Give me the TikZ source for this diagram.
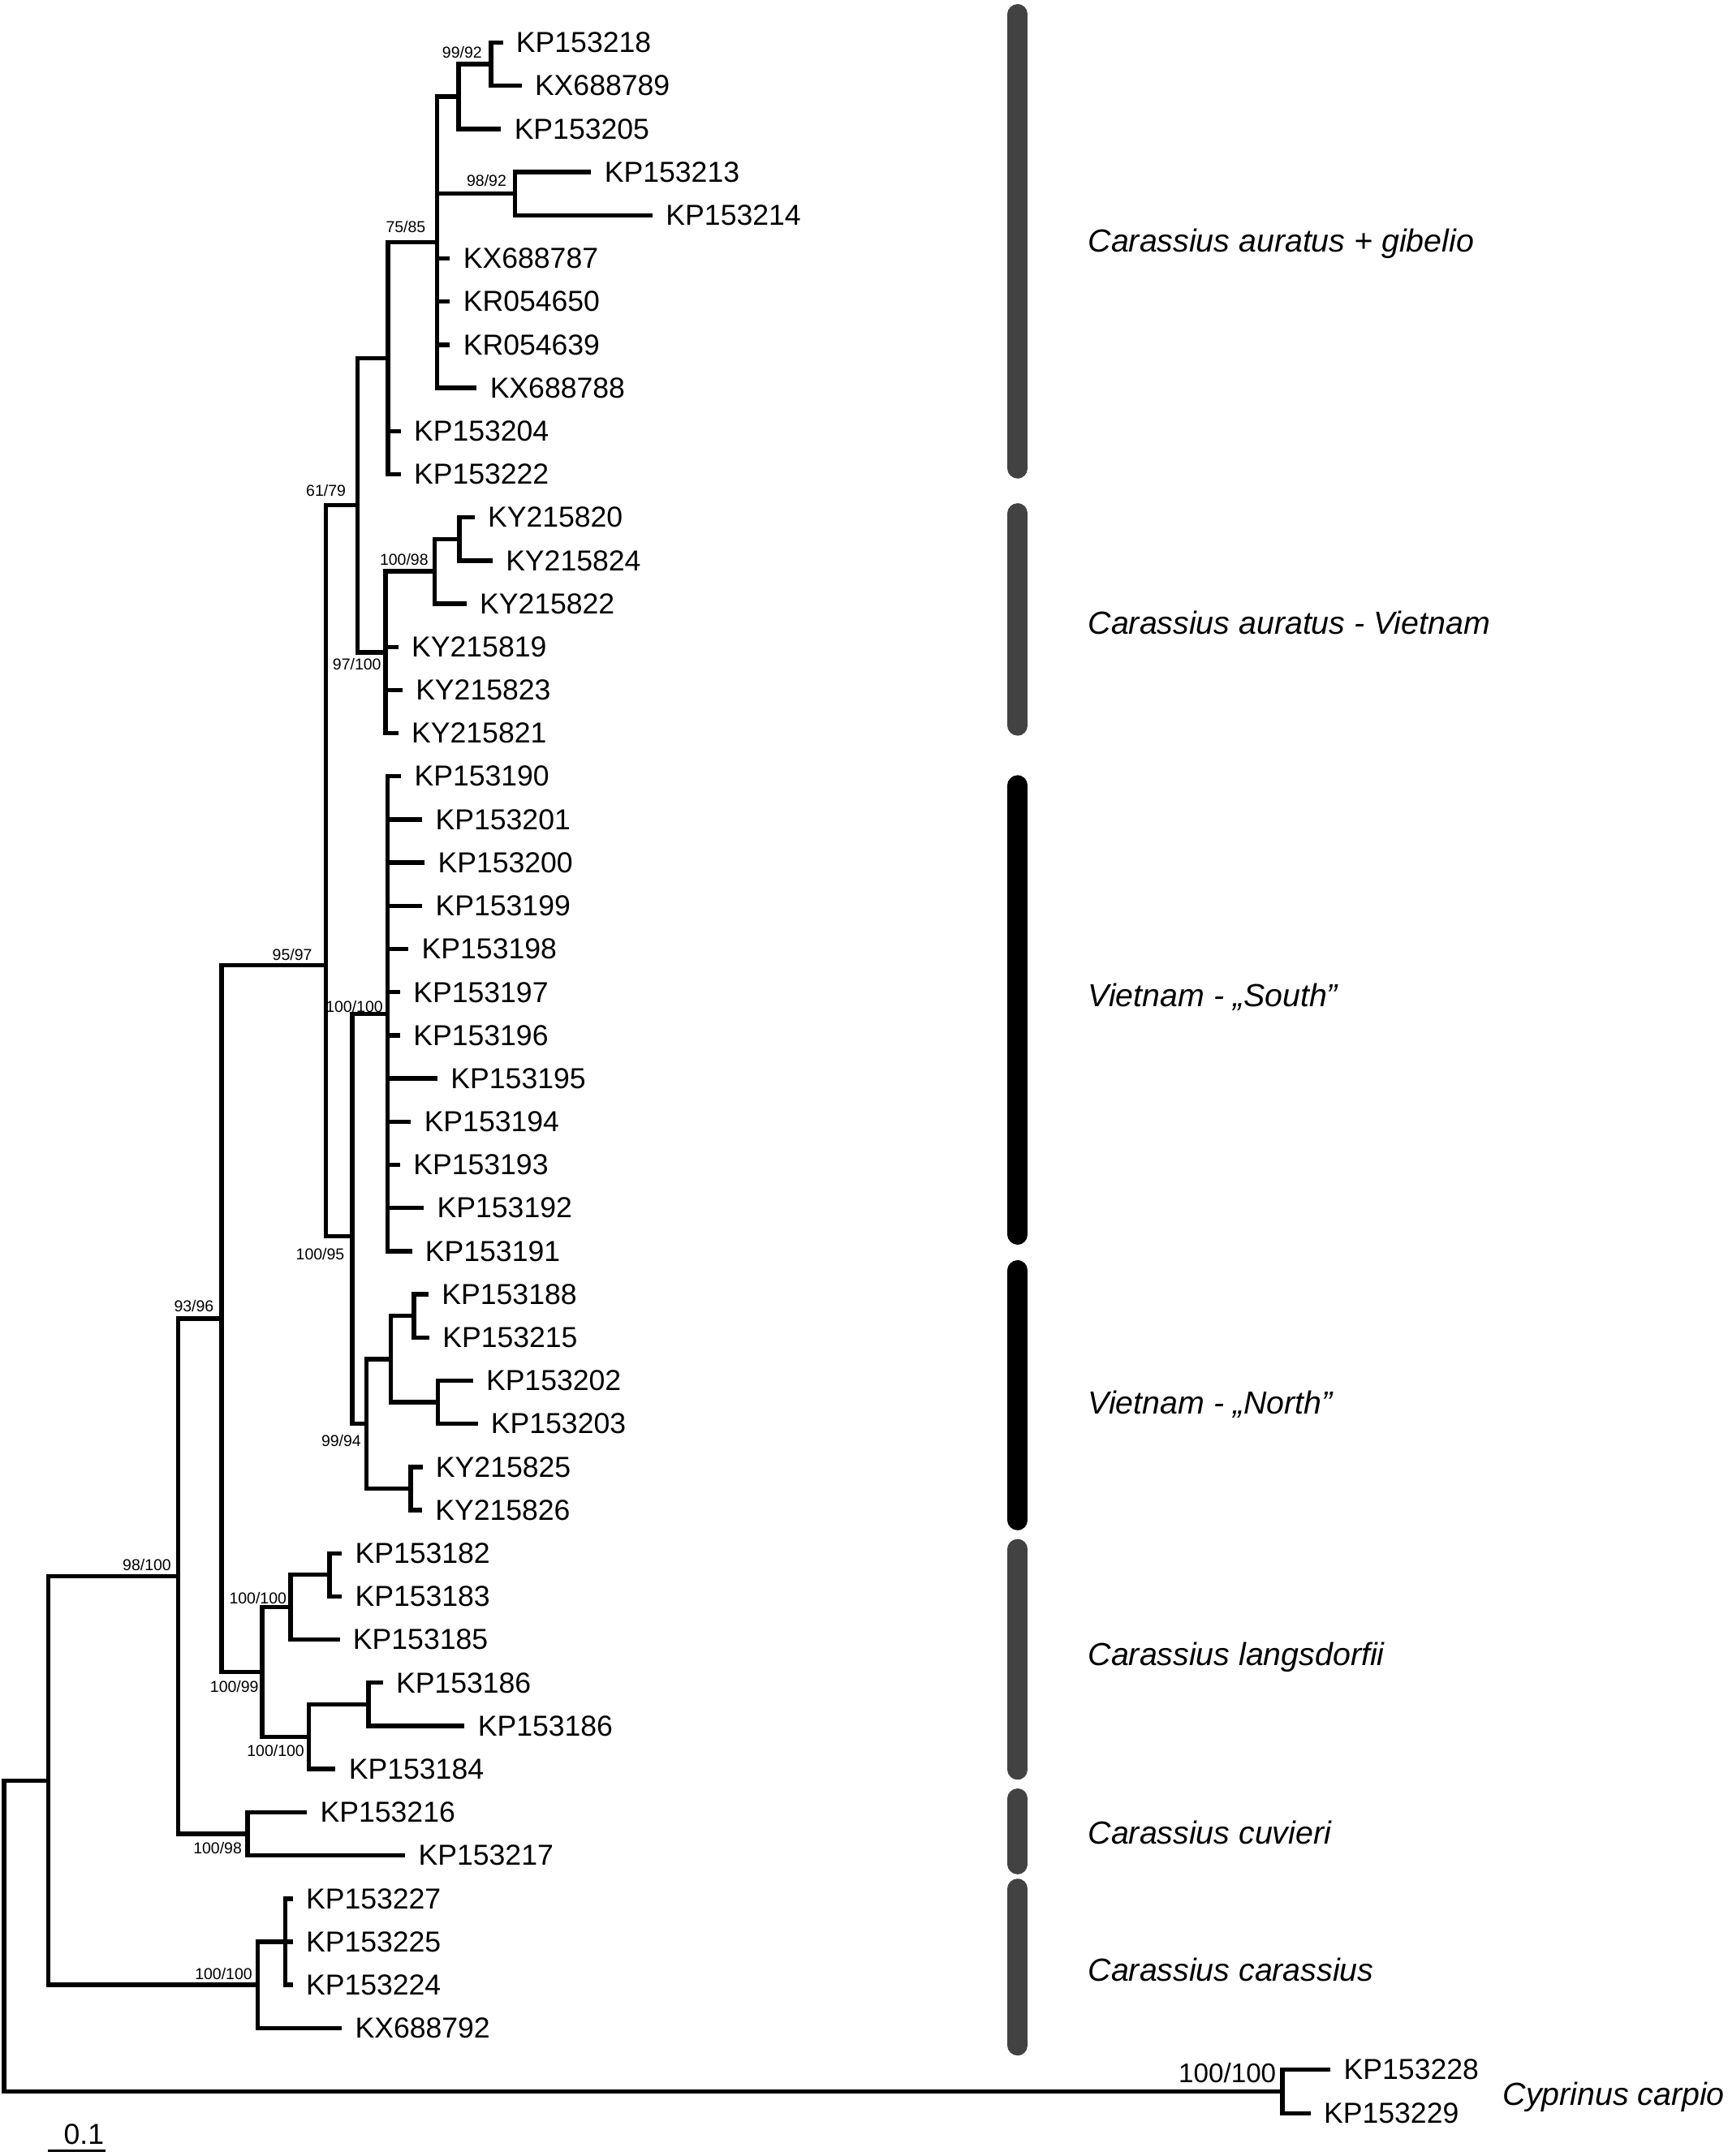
\documentclass[tikz,border=0pt]{standalone}
\usepackage{fontspec}
\setmainfont{Liberation Sans}
\definecolor{bargrey}{RGB}{66,66,66}
\begin{document}
\begin{tikzpicture}[x=1pt,y=-1pt,
  branch/.style={line width=3.2pt, line join=miter},
  leaf/.style={anchor=west, inner xsep=9.5pt, inner ysep=0pt, font=\fontsize{21}{21}\selectfont},
  sup/.style={anchor=base, inner sep=0pt, font=\fontsize{11.5}{11.5}\selectfont},
  bigsup/.style={anchor=base, inner sep=0pt, font=\fontsize{19.6}{19.6}\selectfont},
  grp/.style={anchor=base west, inner sep=0pt, font=\fontsize{23.2}{23.2}\selectfont\itshape},
  greybar/.style={line width=14.8pt, line cap=round, draw=bargrey},
  blackbar/.style={line width=14.8pt, line cap=round, draw=black}]
\fill[white] (0,0) rectangle (1256,1568);
\useasboundingbox (0,0) rectangle (1256,1568);

% ---------- leaves ----------
\node[leaf] (L1)  at (365.6,31.0)   {KP153218};
\node[leaf] (L2)  at (379.2,62.4)   {KX688789};
\node[leaf] (L3)  at (364.3,93.8)   {KP153205};
\node[leaf] (L4)  at (429.9,125.2)  {KP153213};
\node[leaf] (L5)  at (474.5,156.6)  {KP153214};
\node[leaf] (L6)  at (327.2,187.95) {KX688787};
\node[leaf] (L7)  at (327.2,219.3)  {KR054650};
\node[leaf] (L8)  at (327.2,250.7)  {KR054639};
\node[leaf] (L9)  at (346.6,282.1)  {KX688788};
\node[leaf] (L10) at (291.3,313.5)  {KP153204};
\node[leaf] (L11) at (291.3,344.9)  {KP153222};
\node[leaf] (L12) at (345.0,376.3)  {KY215820};
\node[leaf] (L13) at (358.1,407.7)  {KY215824};
\node[leaf] (L14) at (339.1,439.1)  {KY215822};
\node[leaf] (L15) at (289.6,470.5)  {KY215819};
\node[leaf] (L16) at (292.6,501.85) {KY215823};
\node[leaf] (L17) at (289.6,533.2)  {KY215821};
\node[leaf] (L18) at (291.6,564.6)  {KP153190};
\node[leaf] (L19) at (307.0,596.0)  {KP153201};
\node[leaf] (L20) at (308.7,627.4)  {KP153200};
\node[leaf] (L21) at (307.0,658.8)  {KP153199};
\node[leaf] (L22) at (297.0,690.2)  {KP153198};
\node[leaf] (L23) at (290.9,721.6)  {KP153197};
\node[leaf] (L24) at (290.9,753.0)  {KP153196};
\node[leaf] (L25) at (318.1,784.4)  {KP153195};
\node[leaf] (L26) at (298.8,815.75) {KP153194};
\node[leaf] (L27) at (290.9,847.1)  {KP153193};
\node[leaf] (L28) at (308.2,878.5)  {KP153192};
\node[leaf] (L29) at (299.5,909.9)  {KP153191};
\node[leaf] (L30) at (311.6,941.3)  {KP153188};
\node[leaf] (L31) at (312.1,972.7)  {KP153215};
\node[leaf] (L32) at (343.8,1004.1) {KP153202};
\node[leaf] (L33) at (347.3,1035.5) {KP153203};
\node[leaf] (L34) at (307.2,1066.9) {KY215825};
\node[leaf] (L35) at (306.8,1098.3) {KY215826};
\node[leaf] (L36) at (248.5,1129.65){KP153182};
\node[leaf] (L37) at (248.5,1161.0) {KP153183};
\node[leaf] (L38) at (247.0,1192.4) {KP153185};
\node[leaf] (L39) at (278.3,1223.8) {KP153186};
\node[leaf] (L40) at (337.8,1255.2) {KP153186};
\node[leaf] (L41) at (244.0,1286.6) {KP153184};
\node[leaf] (L42) at (223.2,1318.0) {KP153216};
\node[leaf] (L43) at (294.6,1349.4) {KP153217};
\node[leaf] (L44) at (212.8,1380.8) {KP153227};
\node[leaf] (L45) at (212.8,1412.2) {KP153225};
\node[leaf] (L46) at (212.8,1443.55){KP153224};
\node[leaf] (L47) at (248.5,1474.9) {KX688792};
\node[leaf] (L48) at (967.4,1505.0) {KP153228};
\node[leaf] (L49) at (952.9,1537.0) {KP153229};

% ---------- internal nodes ----------
\coordinate (n1)  at (357.0,46.7);
\coordinate (n2)  at (333.5,70.25);
\coordinate (n3)  at (374.3,140.9);
\coordinate (n4)  at (317.8,176.2);
\coordinate (n5)  at (282.2,260.55);
\coordinate (n6)  at (334.1,392.0);
\coordinate (n7)  at (316.0,415.55);
\coordinate (n8)  at (280.2,474.4);
\coordinate (n9)  at (260.0,367.5);
\coordinate (n10) at (281.8,737.25);
\coordinate (n11) at (301.0,957.0);
\coordinate (n12) at (318.4,1019.8);
\coordinate (n13) at (284.0,988.4);
\coordinate (n14) at (298.5,1082.6);
\coordinate (n15) at (266.4,1035.5);
\coordinate (n16) at (256.0,899.0);
\coordinate (n17) at (236.8,702.0);
\coordinate (n18) at (239.6,1145.3);
\coordinate (n19) at (211.3,1168.9);
\coordinate (n20) at (267.8,1239.5);
\coordinate (n21) at (224.7,1263.05);
\coordinate (n22) at (190.5,1216.0);
\coordinate (n23) at (161.0,959.0);
\coordinate (n24) at (180.0,1333.7);
\coordinate (n25) at (129.4,1146.35);
\coordinate (n26) at (207.4,1412.2);
\coordinate (n27) at (187.5,1443.55);
\coordinate (n28) at (35.1,1294.95);
\coordinate (n29) at (932.5,1521.0);
\coordinate (root) at (3.0,1408.0);

% ---------- branches ----------
\draw[branch] (L1.west) -| (n1) |- (L2.west);
\draw[branch] (n1) -| (n2) |- (L3.west);
\draw[branch] (L4.west) -| (n3) |- (L5.west);
\draw[branch] (n2) -| (n4) |- (L9.west);
\draw[branch] (n4 |- n3) -- (n3);
\draw[branch] (n4 |- L6.west) -- (L6.west);
\draw[branch] (n4 |- L7.west) -- (L7.west);
\draw[branch] (n4 |- L8.west) -- (L8.west);
\draw[branch] (n4) -| (n5) |- (L11.west);
\draw[branch] (n5 |- L10.west) -- (L10.west);
\draw[branch] (L12.west) -| (n6) |- (L13.west);
\draw[branch] (n6) -| (n7) |- (L14.west);
\draw[branch] (n7) -| (n8) |- (L17.west);
\draw[branch] (n8 |- L15.west) -- (L15.west);
\draw[branch] (n8 |- L16.west) -- (L16.west);
\draw[branch] (n5) -| (n9) |- (n8);
\draw[branch] (L18.west) -| (n10) |- (L29.west);
\foreach \k in {19,...,28} {\draw[branch] (n10 |- L\k.west) -- (L\k.west);}
\draw[branch] (L30.west) -| (n11) |- (L31.west);
\draw[branch] (L32.west) -| (n12) |- (L33.west);
\draw[branch] (n11) -| (n13) |- (n12);
\draw[branch] (L34.west) -| (n14) |- (L35.west);
\draw[branch] (n13) -| (n15) |- (n14);
\draw[branch] (n10) -| (n16) |- (n15);
\draw[branch] (n9) -| (n17) |- (n16);
\draw[branch] (L36.west) -| (n18) |- (L37.west);
\draw[branch] (n18) -| (n19) |- (L38.west);
\draw[branch] (L39.west) -| (n20) |- (L40.west);
\draw[branch] (n20) -| (n21) |- (L41.west);
\draw[branch] (n19) -| (n22) |- (n21);
\draw[branch] (n17) -| (n23) |- (n22);
\draw[branch] (L42.west) -| (n24) |- (L43.west);
\draw[branch] (n23) -| (n25) |- (n24);
\draw[branch] (L44.west) -| (n26) |- (L46.west);
\draw[branch] (n26 |- L45.west) -- (L45.west);
\draw[branch] (n26) -| (n27) |- (L47.west);
\draw[branch] (n25) -| (n28) |- (n27);
\draw[branch] (L48.west) -| (n29) |- (L49.west);
\draw[branch] (n28) -| (root) |- (n29);

% ---------- support values ----------
\node[sup] (s1)  at (336.0,42.1)   {99/92};
\node[sup] (s2)  at (353.8,135.6)  {98/92};
\node[sup] (s3)  at (295.0,169.1)  {75/85};
\node[sup] (s4)  at (237.0,360.6)  {61/79};
\node[sup] (s5)  at (293.8,411.1)  {100/98};
\node[sup] (s6)  at (259.5,487.3)  {97/100};
\node[sup] (s7)  at (212.5,698.3)  {95/97};
\node[sup] (s8)  at (257.6,735.9)  {100/100};
\node[sup] (s9)  at (232.8,916.4)  {100/95};
\node[sup] (s10) at (248.1,1051.7) {99/94};
\node[sup] (s11) at (141.0,954.1)  {93/96};
\node[sup] (s12) at (106.8,1142.3) {98/100};
\node[sup] (s13) at (187.5,1166.4) {100/100};
\node[sup] (s14) at (170.4,1230.7) {100/99};
\node[sup] (s15) at (200.4,1277.6) {100/100};
\node[sup] (s16) at (158.2,1348.3) {100/98};
\node[sup] (s17) at (162.6,1439.9) {100/100};
\node[bigsup] (s18) at (892.4,1514.5) {100/100};

% ---------- clade bars ----------
\draw[greybar]  (740,10.4)   -- (740,340.6);
\draw[greybar]  (740,373.4)  -- (740,527.6);
\draw[blackbar] (740,571.2)  -- (740,897.8);
\draw[blackbar] (740,923.9)  -- (740,1105.5);
\draw[greybar]  (740,1126.7) -- (740,1286.9);
\draw[greybar]  (740,1308.1) -- (740,1355.7);
\draw[greybar]  (740,1373.7) -- (740,1487.5);

% ---------- clade names ----------
\node[grp] (g1) at (791,183.3)   {Carassius auratus + gibelio};
\node[grp] (g2) at (791,461.3)   {Carassius auratus - Vietnam};
\node[grp] (g3) at (791,732.0)   {Vietnam - „South”};
\node[grp] (g4) at (791,1028.3)  {Vietnam - „North”};
\node[grp] (g5) at (791,1211.1)  {Carassius langsdorfii};
\node[grp] (g6) at (791,1341.3)  {Carassius cuvieri};
\node[grp] (g7) at (791,1441.1)  {Carassius carassius};
\node[grp] (g8) at (1092.5,1530.9) {Cyprinus carpio};

% ---------- scale bar ----------
\coordinate (sbA) at (35.1,1564);
\coordinate (sbB) at (76.5,1564);
\draw[line width=1.5pt] (sbA) -- (sbB);
\node[anchor=base, inner sep=0pt, font=\fontsize{21}{21}\selectfont] (sbT) at (61,1559.3) {0.1};
\end{tikzpicture}
\end{document}
